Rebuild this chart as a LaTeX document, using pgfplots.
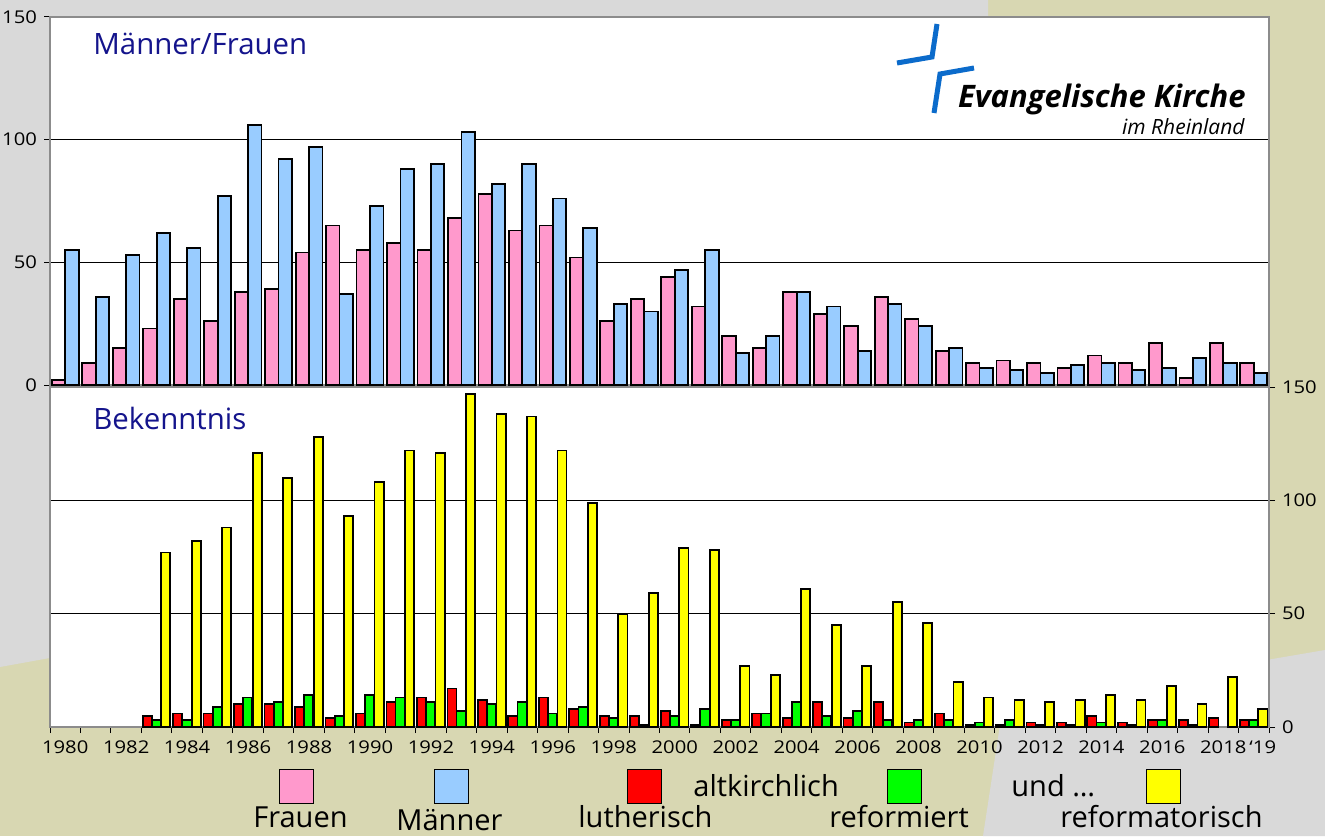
\documentclass[border=0pt]{standalone}
\usepackage{pgfplots}
\pgfplotsset{compat=1.18}
\usepackage{pgfplotstable}
\usepackage{fontspec}
\setmainfont{Open Sans}
\newfontfamily\tickfont[FakeStretch=1.15]{Open Sans}

\definecolor{bggray}{HTML}{D9D9D9}
\definecolor{khaki}{HTML}{D8D7B2}
\definecolor{fpink}{HTML}{FF99CC}
\definecolor{mblue}{HTML}{99CCFF}
\definecolor{lred}{HTML}{FF0000}
\definecolor{rgreen}{HTML}{00FF00}
\definecolor{ryellow}{HTML}{FFFF00}
\definecolor{navy}{HTML}{14148C}
\definecolor{logoblue}{HTML}{0B6BCB}
\definecolor{framegray}{HTML}{8C8C8C}

% Maenner / Frauen per year (i = year - 1980)
\pgfplotstableread{
i F M
0 2 55
1 9 36
2 15 53
3 23 62
4 35 56
5 26 77
6 38 106
7 39 92
8 54 97
9 65 37
10 55 73
11 58 88
12 55 90
13 68 103
14 78 82
15 63 90
16 65 76
17 52 64
18 26 33
19 35 30
20 44 47
21 32 55
22 20 13
23 15 20
24 38 38
25 29 32
26 24 14
27 36 33
28 27 24
29 14 15
30 9 7
31 10 6
32 9 5
33 7 8
34 12 9
35 9 6
36 17 7
37 3 11
38 17 9
39 9 5
}\mf

% Bekenntnis: L = lutherisch, R = reformiert, Y = reformatorisch
\pgfplotstableread{
i L R Y
0 0 0 0
1 0 0 0
2 0 0 0
3 5 3 77
4 6 3 82
5 6 9 88
6 10 13 121
7 10 11 110
8 9 14 128
9 4 5 93
10 6 14 108
11 11 13 122
12 13 11 121
13 17 7 147
14 12 10 138
15 5 11 137
16 13 6 122
17 8 9 99
18 5 4 50
19 5 1 59
20 7 5 79
21 1 8 78
22 3 3 27
23 6 6 23
24 4 11 61
25 11 5 45
26 4 7 27
27 11 3 55
28 2 3 46
29 6 3 20
30 1 2 13
31 1 3 12
32 2 1 11
33 2 1 12
34 5 2 14
35 2 1 12
36 3 3 18
37 3 1 10
38 4 0 22
39 3 3 8
}\bk

\pgfplotsset{
  common/.style={
    scale only axis, width=609.5pt, xmin=0, xmax=40, ymin=0, ymax=150,
    axis background/.style={fill=white},
    ytick={0,50,100,150}, ymajorgrids, grid style={black, line width=0.5pt},
    axis line style={framegray, line width=1pt},
    tick style={black, line width=0.5pt}, major tick length=3pt,
    tick align=outside,
    /pgf/number format/assume math mode=true,
    ticklabel style={font=\tickfont\fontsize{8.8}{10}\selectfont},
    unbounded coords=discard,
  },
  barstyle/.style={ybar, bar shift=0pt, draw=black, line width=0.9pt,
    y filter/.expression={y==0 ? nan : y}},
}

\begin{document}
\begin{tikzpicture}
\useasboundingbox (0,0) rectangle (662.5pt,418pt);
\begin{scope}[x=0.5pt,y=-0.5pt,yshift=418pt]
\fill[khaki] (0,0) rectangle (1325,836);
\fill[bggray] (0,0)--(988,0)--(995,487)--(0,667)--cycle;
\fill[bggray] (983,836)--(1003,705)--(1325,650)--(1325,836)--cycle;
\end{scope}

\begin{axis}[common, at={(25pt,225.5pt)}, anchor=south west, height=184pt,
  xtick=\empty, ytick pos=left]
\addplot[barstyle, bar width=0.44, fill=fpink] table[x expr=\thisrow{i}+0.28, y=F]{\mf};
\addplot[barstyle, bar width=0.44, fill=mblue] table[x expr=\thisrow{i}+0.72, y=M]{\mf};
\end{axis}

\begin{axis}[common, at={(25pt,54.5pt)}, anchor=south west, height=170pt,
  ytick pos=right, yticklabel pos=right,
  xtick={0,1,...,40}, xticklabels={}, xtick pos=bottom,
  extra x ticks={0.5,2.5,...,38.5,39.5},
  extra x tick labels={1980,1982,1984,1986,1988,1990,1992,1994,1996,1998,2000,2002,2004,2006,2008,2010,2012,2014,2016,2018,\hspace*{9pt}‘19},
  extra x tick style={major tick length=0pt, xticklabel style={yshift=-3.5pt}},
]
\addplot[barstyle, bar width=0.3, fill=lred] table[x expr=\thisrow{i}+0.19, y=L]{\bk};
\addplot[barstyle, bar width=0.3, fill=rgreen] table[x expr=\thisrow{i}+0.49, y=R]{\bk};
\addplot[barstyle, bar width=0.3, fill=ryellow] table[x expr=\thisrow{i}+0.80, y=Y]{\bk};
\end{axis}

\begin{scope}[x=0.5pt,y=-0.5pt,yshift=418pt]
% panel titles
\node[anchor=base west, inner sep=0, text=navy, font=\fontsize{14.7}{17}\selectfont] at (93,55) {Männer/Frauen};
\node[anchor=base west, inner sep=0, text=navy, font=\fontsize{14.7}{17}\selectfont] at (93,429) {Bekenntnis};
% logo
\draw[logoblue, line width=2.5pt] (897,63)--(932,57)--(937,24);
\draw[logoblue, line width=2.5pt] (934,113)--(940,74)--(974,68);
\node[anchor=base east, inner sep=0, font=\fontsize{15.5}{18}\selectfont\bfseries\itshape] at (1246,108) {Evangelische Kirche};
\node[anchor=base east, inner sep=0, font=\fontsize{10.5}{12}\selectfont\itshape] at (1245,135) {im Rheinland};
% legend
\begin{scope}[every node/.style={anchor=base west, inner sep=0, font=\fontsize{14.5}{17}\selectfont}]
\filldraw[fill=fpink, draw=black, line width=0.5pt] (279,769) rectangle (313,803);
\node at (253,827) {Frauen};
\filldraw[fill=mblue, draw=black, line width=0.5pt] (434,769) rectangle (468,803);
\node at (396,830) {Männer};
\filldraw[fill=lred, draw=black, line width=0.5pt] (627,769) rectangle (661,803);
\node at (578,827) {lutherisch};
\node at (693,796) {altkirchlich};
\filldraw[fill=rgreen, draw=black, line width=0.5pt] (887,769) rectangle (921,803);
\node at (829,827) {reformiert};
\node at (1011,796) {und …};
\filldraw[fill=ryellow, draw=black, line width=0.5pt] (1146,769) rectangle (1180,803);
\node at (1060,827) {reformatorisch};
\end{scope}
\end{scope}
\end{tikzpicture}
\end{document}
